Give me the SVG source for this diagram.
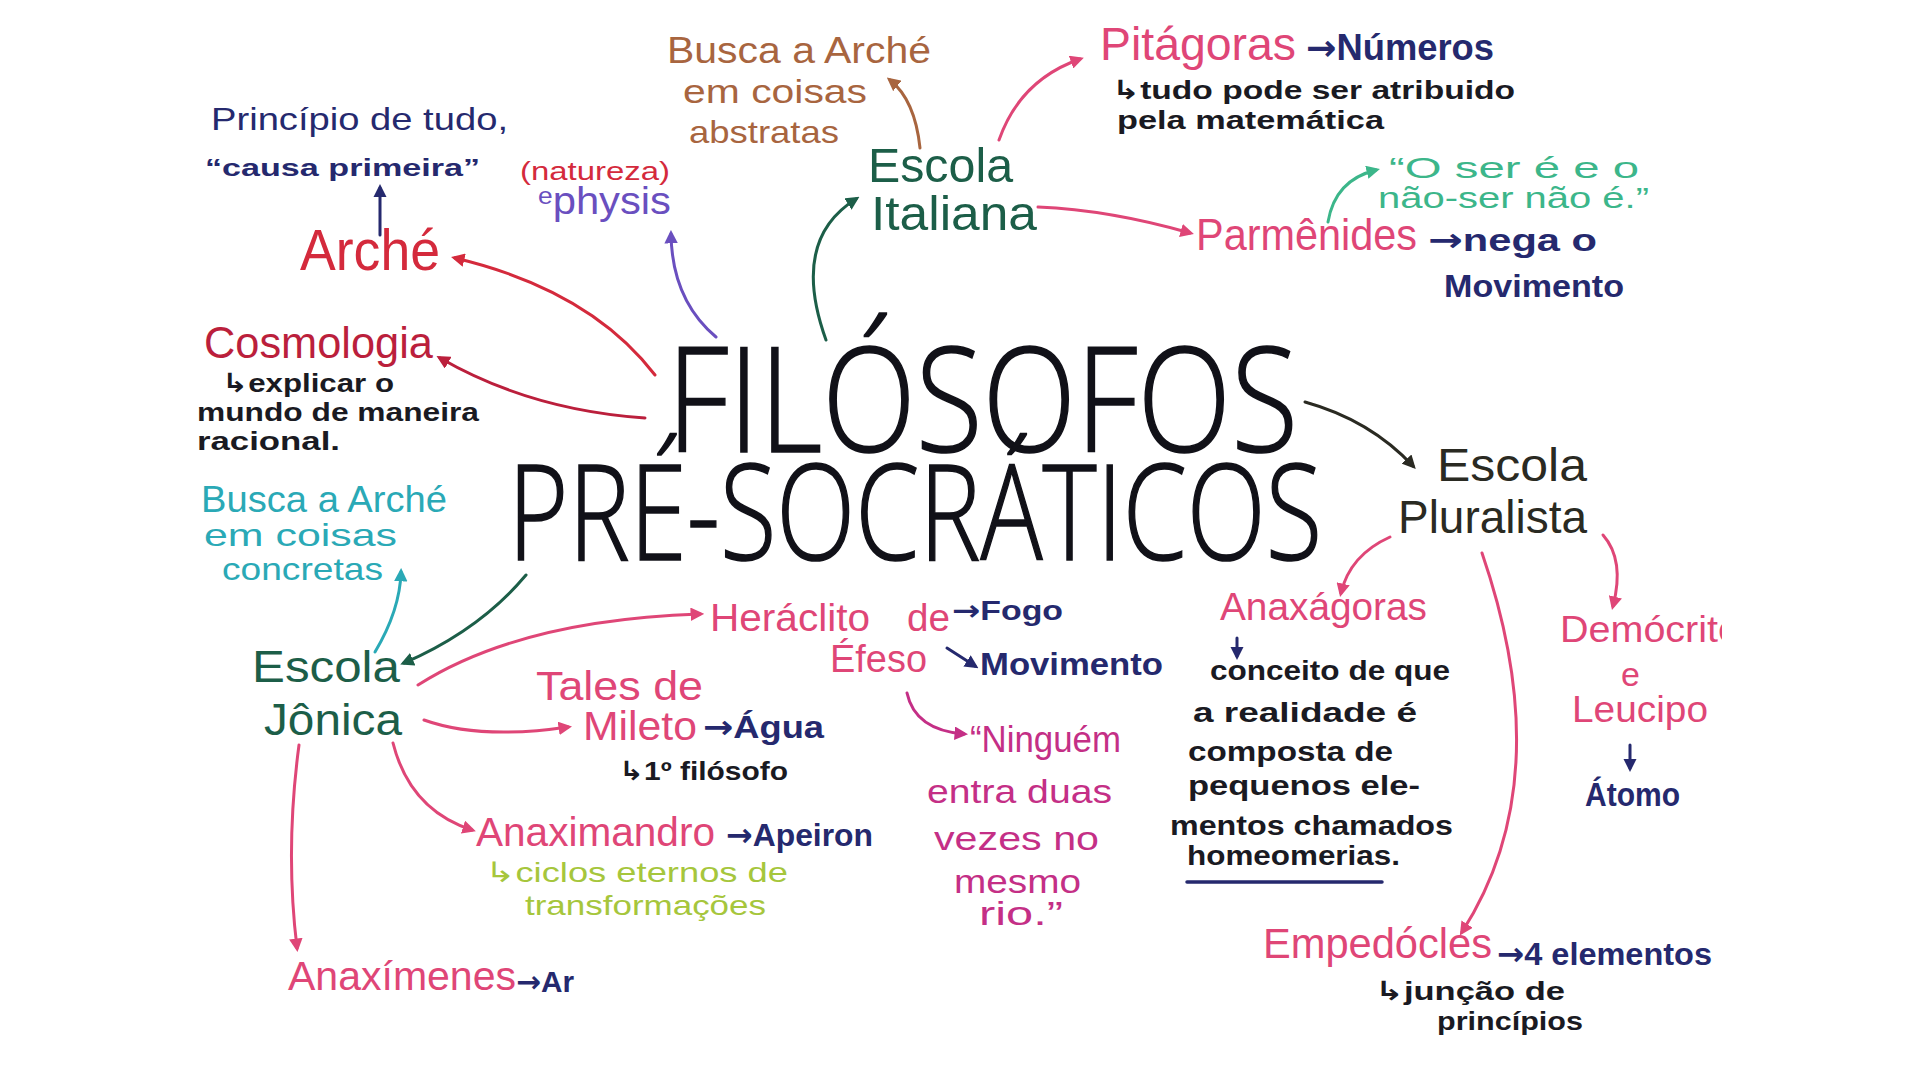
<svg xmlns="http://www.w3.org/2000/svg" width="1920" height="1080" viewBox="0 0 1920 1080">
<defs>
<style>
text{font-family:'Liberation Sans','DejaVu Sans',sans-serif;}
.b{font-weight:bold;}
.ar{font-family:'DejaVu Sans',sans-serif;font-weight:bold;}
.navy{fill:#25296e;}
.red{fill:#d42a3c;}
.crim{fill:#bb1f3c;}
.pink{fill:#df4677;}
.mag{fill:#c42f86;}
.purp{fill:#6a4fbf;}
.brown{fill:#a8653f;}
.green{fill:#1c5e48;}
.teal{fill:#3cb68a;}
.cyan{fill:#2aa9b6;}
.ygreen{fill:#a6c63c;}
.blk{fill:#1a1a22;}
.dark{fill:#2a2a22;}
.title{font-family:'Open Sans','Liberation Sans',sans-serif;font-weight:300;fill:#111118;stroke:#111118;stroke-width:1.6;}
.c{fill:none;stroke-width:3;stroke-linecap:round;}
</style>
<marker id="m-navy" viewBox="0 0 10 10" refX="7" refY="5" markerWidth="4.5" markerHeight="4.5" orient="auto" markerUnits="strokeWidth"><path d="M0,0 L10,5 L0,10 z" fill="#25296e"/></marker>
<marker id="m-red" viewBox="0 0 10 10" refX="7" refY="5" markerWidth="4.5" markerHeight="4.5" orient="auto" markerUnits="strokeWidth"><path d="M0,0 L10,5 L0,10 z" fill="#d42a3c"/></marker>
<marker id="m-crim" viewBox="0 0 10 10" refX="7" refY="5" markerWidth="4.5" markerHeight="4.5" orient="auto" markerUnits="strokeWidth"><path d="M0,0 L10,5 L0,10 z" fill="#bb1f3c"/></marker>
<marker id="m-pink" viewBox="0 0 10 10" refX="7" refY="5" markerWidth="4.5" markerHeight="4.5" orient="auto" markerUnits="strokeWidth"><path d="M0,0 L10,5 L0,10 z" fill="#df4677"/></marker>
<marker id="m-mag" viewBox="0 0 10 10" refX="7" refY="5" markerWidth="4.5" markerHeight="4.5" orient="auto" markerUnits="strokeWidth"><path d="M0,0 L10,5 L0,10 z" fill="#c42f86"/></marker>
<marker id="m-purp" viewBox="0 0 10 10" refX="7" refY="5" markerWidth="4.5" markerHeight="4.5" orient="auto" markerUnits="strokeWidth"><path d="M0,0 L10,5 L0,10 z" fill="#6a4fbf"/></marker>
<marker id="m-brown" viewBox="0 0 10 10" refX="7" refY="5" markerWidth="4.5" markerHeight="4.5" orient="auto" markerUnits="strokeWidth"><path d="M0,0 L10,5 L0,10 z" fill="#a8653f"/></marker>
<marker id="m-green" viewBox="0 0 10 10" refX="7" refY="5" markerWidth="4.5" markerHeight="4.5" orient="auto" markerUnits="strokeWidth"><path d="M0,0 L10,5 L0,10 z" fill="#1c5e48"/></marker>
<marker id="m-teal" viewBox="0 0 10 10" refX="7" refY="5" markerWidth="4.5" markerHeight="4.5" orient="auto" markerUnits="strokeWidth"><path d="M0,0 L10,5 L0,10 z" fill="#3cb68a"/></marker>
<marker id="m-cyan" viewBox="0 0 10 10" refX="7" refY="5" markerWidth="4.5" markerHeight="4.5" orient="auto" markerUnits="strokeWidth"><path d="M0,0 L10,5 L0,10 z" fill="#2aa9b6"/></marker>
<marker id="m-dark" viewBox="0 0 10 10" refX="7" refY="5" markerWidth="4.5" markerHeight="4.5" orient="auto" markerUnits="strokeWidth"><path d="M0,0 L10,5 L0,10 z" fill="#2a2a22"/></marker>
<clipPath id="edge"><rect x="0" y="0" width="1722" height="1080"/></clipPath>
</defs>
<rect width="1920" height="1080" fill="#ffffff"/>

<g id="connectors">
<path class="c" stroke="#25296e" d="M380,235 L380,188" marker-end="url(#m-navy)"/>
<path class="c" stroke="#d42a3c" d="M655,375 Q590,290 455,258" marker-end="url(#m-red)"/>
<path class="c" stroke="#6a4fbf" d="M716,337 Q672,300 671,234" marker-end="url(#m-purp)"/>
<path class="c" stroke="#a8653f" d="M920,148 Q915,100 890,80" marker-end="url(#m-brown)"/>
<path class="c" stroke="#1c5e48" d="M826,340 Q790,240 856,199" marker-end="url(#m-green)"/>
<path class="c" stroke="#df4677" d="M999,140 Q1020,80 1080,59" marker-end="url(#m-pink)"/>
<path class="c" stroke="#df4677" d="M1038,207 Q1110,210 1190,233" marker-end="url(#m-pink)"/>
<path class="c" stroke="#3cb68a" d="M1328,222 Q1335,180 1376,170" marker-end="url(#m-teal)"/>
<path class="c" stroke="#bb1f3c" d="M645,418 Q530,410 440,358" marker-end="url(#m-crim)"/>
<path class="c" stroke="#2aa9b6" d="M375,652 Q400,610 401,572" marker-end="url(#m-cyan)"/>
<path class="c" stroke="#1c5e48" d="M526,575 Q480,630 404,663" marker-end="url(#m-green)"/>
<path class="c" stroke="#df4677" d="M418,685 Q520,620 700,614" marker-end="url(#m-pink)"/>
<path class="c" stroke="#df4677" d="M424,720 Q480,740 568,727" marker-end="url(#m-pink)"/>
<path class="c" stroke="#df4677" d="M393,743 Q410,810 472,830" marker-end="url(#m-pink)"/>
<path class="c" stroke="#df4677" d="M299,745 Q285,850 297,948" marker-end="url(#m-pink)"/>
<path class="c" stroke="#2a2a22" d="M1305,402 Q1370,420 1413,466" marker-end="url(#m-dark)"/>
<path class="c" stroke="#df4677" d="M1390,537 Q1350,555 1341,593" marker-end="url(#m-pink)"/>
<path class="c" stroke="#df4677" d="M1603,535 Q1625,560 1613,606" marker-end="url(#m-pink)"/>
<path class="c" stroke="#df4677" d="M1482,553 Q1560,780 1462,932" marker-end="url(#m-pink)"/>
<path class="c" stroke="#25296e" d="M1237,638 L1237,656" marker-end="url(#m-navy)"/>
<path class="c" stroke="#25296e" d="M1630,745 L1630,768" marker-end="url(#m-navy)"/>
<path class="c" stroke="#25296e" d="M947,648 L975,666" marker-end="url(#m-navy)"/>
<path class="c" stroke="#c42f86" d="M907,693 Q915,730 964,734" marker-end="url(#m-mag)"/>
</g>

<g id="central">
<text class="title"><tspan x="667" y="452" font-size="146" textLength="631" lengthAdjust="spacingAndGlyphs">FILÓSOFOS</tspan><tspan x="508" y="560" font-size="132" textLength="814" lengthAdjust="spacingAndGlyphs">PRÉ-SOCRÁTICOS</tspan></text>
</g>

<g id="principio">
<text class="navy"><tspan x="211" y="130" font-size="32" textLength="297" lengthAdjust="spacingAndGlyphs">Princípio de tudo,</tspan><tspan class="b" x="205" y="176" font-size="24" textLength="275" lengthAdjust="spacingAndGlyphs">“causa primeira”</tspan></text>
</g>

<g id="arche">
<text class="red" x="300" y="270" font-size="58" textLength="140" lengthAdjust="spacingAndGlyphs">Arché</text>
</g>

<g id="physis">
<text class="red" x="520" y="180" font-size="26" textLength="150" lengthAdjust="spacingAndGlyphs">(natureza)</text>
<text class="purp" x="538" y="214" font-size="38" textLength="133" lengthAdjust="spacingAndGlyphs"><tspan font-size="24" dy="-10">e</tspan><tspan dy="10">physis</tspan></text>
</g>

<g id="busca-abstratas">
<text class="brown"><tspan x="667" y="63" font-size="36" textLength="264" lengthAdjust="spacingAndGlyphs">Busca a Arché</tspan><tspan x="683" y="103" font-size="34" textLength="184" lengthAdjust="spacingAndGlyphs">em coisas</tspan><tspan x="689" y="143" font-size="32" textLength="150" lengthAdjust="spacingAndGlyphs">abstratas</tspan></text>
</g>

<g id="escola-italiana">
<text class="green" font-size="48"><tspan x="868" y="182" textLength="145" lengthAdjust="spacingAndGlyphs">Escola</tspan><tspan x="871" y="230" textLength="166" lengthAdjust="spacingAndGlyphs">Italiana</tspan></text>
</g>

<g id="pitagoras">
<text class="pink" x="1100" y="60" font-size="46" textLength="196" lengthAdjust="spacingAndGlyphs">Pitágoras</text>
<text class="navy b" x="1306" y="60" font-size="36" textLength="188" lengthAdjust="spacingAndGlyphs"><tspan class="ar">→</tspan>Números</text>
<text class="blk b" font-size="26"><tspan x="1112" y="99" textLength="403" lengthAdjust="spacingAndGlyphs">↳tudo pode ser atribuido</tspan><tspan x="1117" y="129" textLength="267" lengthAdjust="spacingAndGlyphs">pela matemática</tspan></text>
</g>

<g id="parmenides">
<text class="teal" font-size="30"><tspan x="1389" y="178" textLength="250" lengthAdjust="spacingAndGlyphs">“O ser é e o</tspan><tspan x="1378" y="208" textLength="271" lengthAdjust="spacingAndGlyphs">não-ser não é.”</tspan></text>
<text class="pink" x="1196" y="250" font-size="44" textLength="221" lengthAdjust="spacingAndGlyphs">Parmênides</text>
<text class="navy b" font-size="32"><tspan x="1428" y="251" textLength="169" lengthAdjust="spacingAndGlyphs"><tspan class="ar">→</tspan>nega o</tspan><tspan x="1444" y="297" textLength="180" lengthAdjust="spacingAndGlyphs">Movimento</tspan></text>
</g>

<g id="cosmologia">
<text class="crim" x="204" y="358" font-size="44" textLength="229" lengthAdjust="spacingAndGlyphs">Cosmologia</text>
<text class="blk b" font-size="26"><tspan x="222" y="392" textLength="172" lengthAdjust="spacingAndGlyphs">↳explicar o</tspan><tspan x="197" y="421" textLength="282" lengthAdjust="spacingAndGlyphs">mundo de maneira</tspan><tspan x="197" y="450" textLength="143" lengthAdjust="spacingAndGlyphs">racional.</tspan></text>
</g>

<g id="busca-concretas">
<text class="cyan"><tspan x="201" y="512" font-size="36" textLength="246" lengthAdjust="spacingAndGlyphs">Busca a Arché</tspan><tspan x="204" y="546" font-size="32" textLength="193" lengthAdjust="spacingAndGlyphs">em coisas</tspan><tspan x="222" y="580" font-size="32" textLength="161" lengthAdjust="spacingAndGlyphs">concretas</tspan></text>
</g>

<g id="escola-jonica">
<text class="green" font-size="44"><tspan x="252" y="682" textLength="148" lengthAdjust="spacingAndGlyphs">Escola</tspan><tspan x="264" y="735" textLength="138" lengthAdjust="spacingAndGlyphs">Jônica</tspan></text>
</g>

<g id="heraclito">
<text class="pink" font-size="38"><tspan x="710" y="631" textLength="160" lengthAdjust="spacingAndGlyphs">Heráclito</tspan><tspan x="907" y="631" textLength="43" lengthAdjust="spacingAndGlyphs">de</tspan><tspan x="830" y="672" textLength="97" lengthAdjust="spacingAndGlyphs">Éfeso</tspan></text>
<text class="navy b" x="952" y="620" font-size="28" textLength="111" lengthAdjust="spacingAndGlyphs"><tspan class="ar">→</tspan>Fogo</text>
<text class="navy b" x="980" y="675" font-size="32" textLength="183" lengthAdjust="spacingAndGlyphs">Movimento</text>
<text class="mag"><tspan x="970" y="752" font-size="36" textLength="151" lengthAdjust="spacingAndGlyphs">“Ninguém</tspan><tspan x="927" y="803" font-size="34" textLength="185" lengthAdjust="spacingAndGlyphs">entra duas</tspan><tspan x="934" y="850" font-size="34" textLength="165" lengthAdjust="spacingAndGlyphs">vezes no</tspan><tspan x="954" y="893" font-size="34" textLength="127" lengthAdjust="spacingAndGlyphs">mesmo</tspan><tspan x="979" y="925" font-size="34" textLength="84" lengthAdjust="spacingAndGlyphs">rio.”</tspan></text>
</g>

<g id="tales">
<text class="pink" font-size="40"><tspan x="536" y="700" textLength="167" lengthAdjust="spacingAndGlyphs">Tales de</tspan><tspan x="583" y="740" textLength="114" lengthAdjust="spacingAndGlyphs">Mileto</tspan></text>
<text class="navy b" x="703" y="738" font-size="32" textLength="121" lengthAdjust="spacingAndGlyphs"><tspan class="ar">→</tspan>Água</text>
<text class="blk b" x="619" y="780" font-size="26" textLength="169" lengthAdjust="spacingAndGlyphs">↳1º filósofo</text>
</g>

<g id="anaximandro">
<text class="pink" x="476" y="846" font-size="40" textLength="239" lengthAdjust="spacingAndGlyphs">Anaximandro</text>
<text class="navy b" x="726" y="846" font-size="32" textLength="147" lengthAdjust="spacingAndGlyphs"><tspan class="ar">→</tspan>Apeiron</text>
<text class="ygreen" font-size="28"><tspan x="485" y="882" textLength="303" lengthAdjust="spacingAndGlyphs">↳ciclos eternos de</tspan><tspan x="525" y="915" textLength="241" lengthAdjust="spacingAndGlyphs">transformações</tspan></text>
</g>

<g id="anaximenes">
<text class="pink" x="288" y="990" font-size="40" textLength="228" lengthAdjust="spacingAndGlyphs">Anaxímenes</text>
<text class="navy b" x="516" y="992" font-size="30" textLength="58" lengthAdjust="spacingAndGlyphs"><tspan class="ar">→</tspan>Ar</text>
</g>

<g id="escola-pluralista">
<text class="dark" font-size="46"><tspan x="1437" y="481" textLength="150" lengthAdjust="spacingAndGlyphs">Escola</tspan><tspan x="1398" y="533" textLength="189" lengthAdjust="spacingAndGlyphs">Pluralista</tspan></text>
</g>

<g id="anaxagoras">
<text class="pink" x="1220" y="620" font-size="38" textLength="207" lengthAdjust="spacingAndGlyphs">Anaxágoras</text>
<text class="blk b" font-size="28"><tspan x="1210" y="680" textLength="240" lengthAdjust="spacingAndGlyphs">conceito de que</tspan><tspan x="1193" y="722" textLength="224" lengthAdjust="spacingAndGlyphs">a realidade é</tspan><tspan x="1188" y="761" textLength="205" lengthAdjust="spacingAndGlyphs">composta de</tspan><tspan x="1188" y="795" textLength="232" lengthAdjust="spacingAndGlyphs">pequenos ele-</tspan><tspan x="1170" y="835" textLength="283" lengthAdjust="spacingAndGlyphs">mentos chamados</tspan><tspan x="1187" y="865" textLength="213" lengthAdjust="spacingAndGlyphs">homeomerias.</tspan></text>
<line x1="1187" y1="882" x2="1382" y2="882" stroke="#25296e" stroke-width="3.5" stroke-linecap="round"/>
</g>

<g id="democrito">
<text class="pink" font-size="36" clip-path="url(#edge)"><tspan x="1560" y="642" textLength="180" lengthAdjust="spacingAndGlyphs">Demócrito</tspan><tspan x="1621" y="686" font-size="34">e</tspan><tspan x="1572" y="722" textLength="136" lengthAdjust="spacingAndGlyphs">Leucipo</tspan></text>
<text class="navy b" x="1585" y="806" font-size="34" textLength="95" lengthAdjust="spacingAndGlyphs">Átomo</text>
</g>

<g id="empedocles">
<text class="pink" x="1263" y="958" font-size="42" textLength="229" lengthAdjust="spacingAndGlyphs">Empedócles</text>
<text class="navy b" x="1497" y="965" font-size="32" textLength="215" lengthAdjust="spacingAndGlyphs"><tspan class="ar">→</tspan>4 elementos</text>
<text class="blk b" font-size="26"><tspan x="1375" y="1000" textLength="190" lengthAdjust="spacingAndGlyphs">↳junção de</tspan><tspan x="1437" y="1030" textLength="146" lengthAdjust="spacingAndGlyphs">princípios</tspan></text>
</g>
</svg>
